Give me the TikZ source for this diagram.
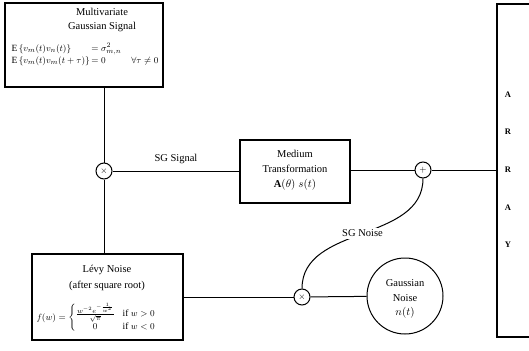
\documentclass[tikz,border=0pt]{standalone}
\usepackage{amsmath}
\usepackage{fontspec}
\setmainfont{Liberation Serif}
\begin{document}
\begin{tikzpicture}[x=1pt,y=-1pt,line width=1pt,
  box/.style={draw,rectangle,line width=1.2pt,inner sep=0pt},
  op/.style={draw,circle,minimum size=16pt,inner sep=0pt,line width=1pt,font=\fontsize{9}{9}\selectfont},
  txt/.style={font=\fontsize{10.5}{12}\selectfont,inner sep=0pt},
  mth/.style={font=\fontsize{9.5}{10}\selectfont,inner sep=0pt},
  arr/.style={font=\fontsize{8.5}{8.5}\selectfont\bfseries,inner sep=0pt}]
\useasboundingbox (0,0) rectangle (529,350);

% blocks
\node[box,minimum width=158pt,minimum height=84pt] (sig) at (84,45) {};
\node[box,minimum width=151pt,minimum height=86pt] (levy) at (107.5,297) {};
\node[box,minimum width=110pt,minimum height=63pt] (med) at (295,171.5) {};
\node[draw,circle,line width=1pt,minimum size=76pt,inner sep=0pt] (gauss) at (405,296) {};
\node[op] (m1) at (104,171) {$\times$};
\node[op] (m2) at (302,297) {$\times$};
\node[op] (plus) at (423,170) {$+$};

% array block, open at the right
\coordinate (arrtop) at (497,4);
\coordinate (arrin) at (497,170);
\coordinate (arrbot) at (497,337);
\draw[line width=1.2pt] (529,4) -- (arrtop) -- (arrbot) -- (529,337);
\foreach \l/\y in {A/95,R/132,R/170,A/208,Y/245}
  \node[arr] at (508,\y) {\l};

% texts of the signal block
\node[txt] (sigt1) at (102,12) {Multivariate};
\node[txt] (sigt2) at (102,27) {Gaussian Signal};
\node[mth,anchor=west] (sigeq) at (11,55) {%
  \begin{tabular}{@{}l@{\,}l@{\hspace{10pt}}l@{}}
  $\mathrm{E}\left\{v_m(t)v_n(t)\right\}$ & $=\sigma^2_{m,n}$ & \\[2pt]
  $\mathrm{E}\left\{v_m(t)v_m(t+\tau)\right\}$ & $=0$ & $\forall\tau\neq 0$
  \end{tabular}};

% texts of the noise block
\node[txt] (lt1) at (107,270) {L\'evy Noise};
\node[txt] (lt2) at (107,286) {(after square root)};
\node[mth,anchor=west] (leq) at (36,318) {%
  $f(w)=\left\{\begin{array}{@{}c@{\hspace{8pt}}l@{}}\frac{w^{-2}e^{-\frac{1}{w^2}}}{\sqrt{\pi}} & \text{if } w>0\\[2pt] 0 & \text{if } w<0\end{array}\right.$};

% texts of the medium block
\node[txt] (mt1) at (295,154) {Medium};
\node[txt] (mt2) at (295,169) {Transformation};
\node[txt] (mt3) at (295,185) {$\mathbf{A}(\theta)\;s(t)$};

% texts of the Gaussian noise source
\node[txt] (gt1) at (405,283) {Gaussian};
\node[txt] (gt2) at (405,298) {Noise};
\node[txt] (gt3) at (405,313) {$n(t)$};

% connectors
\draw (sig.south -| m1) -- (m1);
\draw (m1) -- (levy.north -| m1);
\draw (m1) -- node[txt,above=7pt] {SG Signal} (med.west |- m1);
\draw (med.east |- plus) -- (plus);
\draw (plus) -- (arrin);
\draw (levy.east |- m2) -- (m2);
\draw (gauss) -- (m2);
\draw (m2) to[out=90,in=-90] node[txt,fill=white,inner sep=2pt,pos=0.5] {SG Noise} (plus);
\end{tikzpicture}
\end{document}
